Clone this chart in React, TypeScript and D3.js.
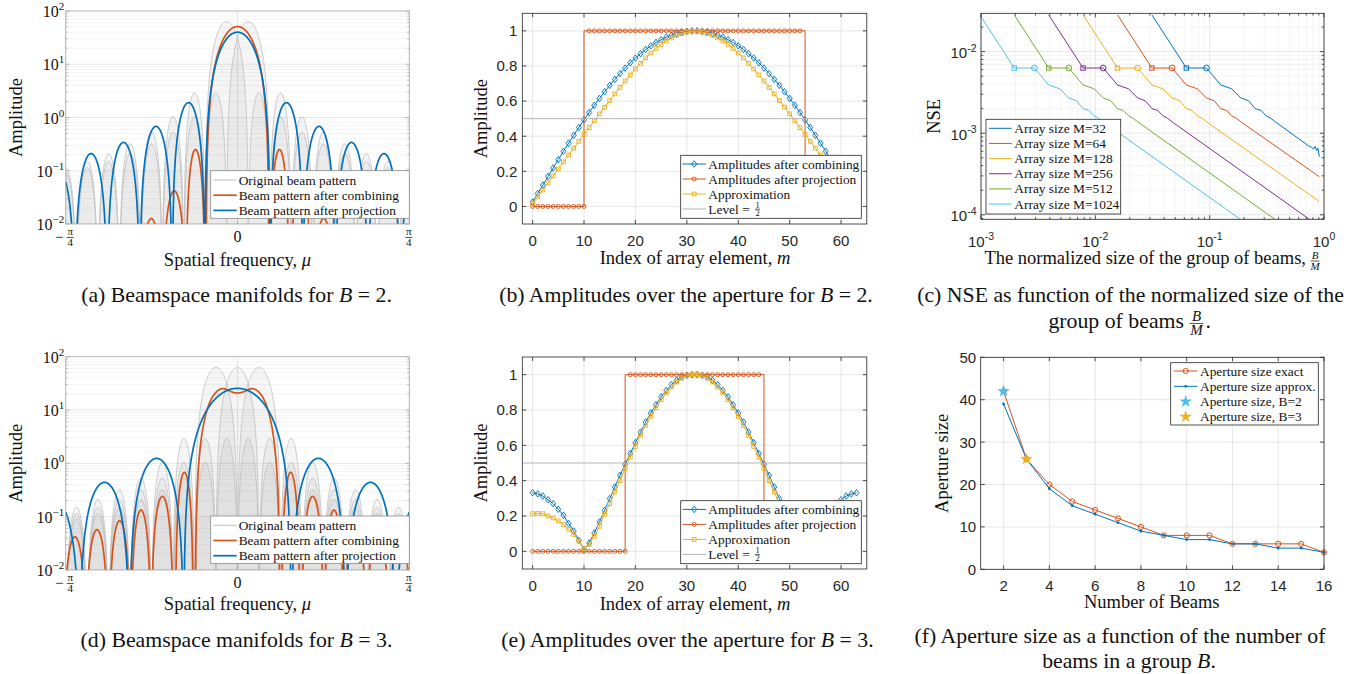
import React from 'react';
import * as d3 from 'd3';

type Lobe = [number, number, number];
type Box = { left: number; right: number; top: number; bottom: number };

const SERIF = '"Liberation Serif","Times New Roman",Times,serif';
const SANS = '"Liberation Sans",Arial,Helvetica,sans-serif';
const INK = '#262626';
const BLUE = '#0072BD';
const ORANGE = '#D95319';
const YELLOW = '#EDB120';
const PURPLE = '#7E2F8E';
const GREEN = '#77AC30';
const CYAN = '#4DBEEE';
const LABEL_FS = 18.5;
const CAPTION_FS = 21.8;
const LEGEND_FS = 13.4;
const TICK_FS = 15;

// ================= DATA =================
// (a),(d) beam patterns. x in units of pi/4, lobes = [left null, right null, peak]
const muTickUnits = [-1, 0, 1];
const amplitudeDecades = [-2, -1, 0, 1, 2];
const originalBeamBin = 0.125;
const originalCentersB2 = [-0.0625, 0.0625];
const originalCentersB3 = [-0.125, 0, 0.125];
const originalLobePeaks = [63, 2.9, 1.04, 0.53, 0.32, 0.21, 0.15, 0.115, 0.09, 0.072, 0.059, 0.049];
const combiningLobesB2: Lobe[] = [
  [-0.183, 0.183, 51], [-0.2998, -0.189, 0.25], [-0.4366, -0.2998, 0.042], [-0.57, -0.4336, 0.0127],
];
const projectionLobesB2: Lobe[] = [
  [-0.19, 0.19, 40], [-0.38, -0.19, 1.9], [-0.569, -0.38, 0.68], [-0.758, -0.569, 0.34],
  [-0.947, -0.758, 0.21], [-1.136, -0.947, 0.105],
];
const combiningLobesB3: Lobe[] = [
  [-0.2456, 0.0629, 24.3], [-0.0629, 0.2456, 24.3], [-0.131, 0.131, 3.5],
  [-0.362, -0.2567, 0.68], [-0.5023, -0.3725, 0.24], [-0.6205, -0.5029, 0.133],
  [-0.7485, -0.6234, 0.084], [-0.8847, -0.7509, 0.057], [-1.0146, -0.8789, 0.042],
];
const projectionLobesB3: Lobe[] = [
  [-0.313, 0.313, 25.5], [-0.6286, -0.313, 1.24], [-0.9197, -0.6286, 0.44], [-1.237, -0.9197, 0.24],
];
const beamLegendLabels = ['Original beam pattern', 'Beam pattern after combining', 'Beam pattern after projection'];

// (b),(e) amplitudes over the aperture, m = 0..63
const elementTicks = [0, 10, 20, 30, 40, 50, 60];
const amplitudeTicks = [0, 0.2, 0.4, 0.6, 0.8, 1];
const combiningAmpB2 = [
  0.025, 0.074, 0.122, 0.171, 0.219, 0.267, 0.314, 0.36, 0.405, 0.45, 0.493, 0.535, 0.576, 0.615, 0.653, 0.69,
  0.724, 0.757, 0.788, 0.818, 0.845, 0.87, 0.894, 0.915, 0.934, 0.95, 0.964, 0.976, 0.985, 0.993, 0.997, 1.0,
  1.0, 0.997, 0.993, 0.985, 0.976, 0.964, 0.95, 0.934, 0.915, 0.894, 0.87, 0.845, 0.818, 0.788, 0.757, 0.724,
  0.69, 0.653, 0.615, 0.576, 0.535, 0.493, 0.45, 0.405, 0.36, 0.314, 0.267, 0.219, 0.171, 0.122, 0.074, 0.025,
];
const projectionAmpB2 = [
  0, 0, 0, 0, 0, 0, 0, 0, 0, 0, 0,
  1, 1, 1, 1, 1, 1, 1, 1, 1, 1, 1, 1, 1, 1, 1, 1, 1, 1, 1, 1, 1, 1, 1, 1, 1, 1, 1, 1, 1, 1, 1, 1, 1, 1, 1, 1, 1, 1, 1, 1, 1, 1,
  0, 0, 0, 0, 0, 0, 0, 0, 0, 0, 0,
];
const approxAmpB2 = [
  0.015, 0.055, 0.094, 0.134, 0.174, 0.214, 0.253, 0.293, 0.332, 0.371, 0.41, 0.449, 0.488, 0.527, 0.565, 0.603,
  0.641, 0.678, 0.714, 0.749, 0.783, 0.815, 0.846, 0.874, 0.9, 0.923, 0.943, 0.96, 0.974, 0.985, 0.993, 0.998,
  0.998, 0.993, 0.985, 0.974, 0.96, 0.943, 0.923, 0.9, 0.874, 0.846, 0.815, 0.783, 0.749, 0.714, 0.678, 0.641,
  0.603, 0.565, 0.527, 0.488, 0.449, 0.41, 0.371, 0.332, 0.293, 0.253, 0.214, 0.174, 0.134, 0.094, 0.055, 0.015,
];
const combiningAmpB3 = [
  0.332, 0.325, 0.313, 0.292, 0.27, 0.238, 0.204, 0.158, 0.115, 0.062, 0.011, 0.047, 0.104, 0.166, 0.232, 0.298,
  0.364, 0.43, 0.492, 0.553, 0.615, 0.675, 0.732, 0.783, 0.83, 0.874, 0.911, 0.943, 0.968, 0.987, 0.996, 1.0,
  1.0, 0.996, 0.987, 0.968, 0.943, 0.911, 0.874, 0.83, 0.783, 0.732, 0.675, 0.615, 0.553, 0.492, 0.43, 0.364,
  0.298, 0.232, 0.166, 0.104, 0.047, 0.011, 0.062, 0.115, 0.158, 0.204, 0.238, 0.27, 0.292, 0.313, 0.325, 0.332,
];
const projectionAmpB3 = [
  0, 0, 0, 0, 0, 0, 0, 0, 0, 0, 0, 0, 0, 0, 0, 0, 0, 0, 0,
  1, 1, 1, 1, 1, 1, 1, 1, 1, 1, 1, 1, 1, 1, 1, 1, 1, 1, 1, 1, 1, 1, 1, 1, 1, 1,
  0, 0, 0, 0, 0, 0, 0, 0, 0, 0, 0, 0, 0, 0, 0, 0, 0, 0, 0,
];
const approxAmpB3 = [
  0.213, 0.215, 0.213, 0.2, 0.189, 0.172, 0.151, 0.125, 0.096, 0.058, 0.013, 0.04, 0.085, 0.142, 0.21, 0.27,
  0.336, 0.4, 0.468, 0.534, 0.594, 0.657, 0.713, 0.764, 0.813, 0.858, 0.896, 0.93, 0.958, 0.981, 0.994, 1.0,
  1.0, 0.994, 0.981, 0.958, 0.93, 0.896, 0.858, 0.813, 0.764, 0.713, 0.657, 0.594, 0.534, 0.468, 0.4, 0.336,
  0.27, 0.21, 0.142, 0.085, 0.04, 0.013, 0.058, 0.096, 0.125, 0.151, 0.172, 0.189, 0.2, 0.213, 0.215, 0.213,
];
const halfLevel = 0.5;
const apertureLegendLabels = ['Amplitudes after combining', 'Amplitudes after projection', 'Approximation', 'Level = '];

// (c) NSE vs B/M
const arraySizes = [32, 64, 128, 256, 512, 1024];
const nseGroupSizes = [1, 2, 3, 4, 5, 6, 7, 8, 9, 10, 11, 12];
const nseHead = [0.0282, 0.0063, 0.0063, 0.0039, 0.0035, 0.0027, 0.0025, 0.002, 0.0019, 0.00163, 0.00152, 0.00138];
const nseTailRatio = [
  [0.684, 0.731, 0.782, 0.809, 0.836, 0.864, 0.883, 0.912],
  [0.912], [0.912], [0.912], [0.912], [0.912],
];
const nseTailValue = [
  [7.5e-4, 6.98e-4, 6.73e-4, 6.37e-4, 6.86e-4, 6.12e-4, 6.55e-4, 5.16e-4],
  [2.92e-4], [1.45e-4], [7.2e-5], [3.6e-5], [1.8e-5],
];
const nseXTickExp = [-3, -2, -1, 0];
const nseYTickExp = [-4, -3, -2];

// (f) aperture size vs number of beams
const beamsPerGroup = [2, 3, 4, 5, 6, 7, 8, 9, 10, 11, 12, 13, 14, 15, 16];
const apertureExact = [42, 26, 20, 16, 14, 12, 10, 8, 8, 8, 6, 6, 6, 6, 4];
const apertureApprox = [39, 26, 19, 15, 13, 11, 9, 8, 7, 7, 6, 6, 5, 5, 4];
const apertureStarB2 = [2, 42];
const apertureStarB3 = [3, 26];
const beamCountTicks = [2, 4, 6, 8, 10, 12, 14, 16];
const apertureTicks = [0, 10, 20, 30, 40, 50];
const sizeLegendLabels = ['Aperture size exact', 'Aperture size approx.', 'Aperture size, B=2', 'Aperture size, B=3'];

// ================= HELPERS =================
function lobeValue(lobes: Lobe[], u: number) {
  let v = 0;
  for (const [l, r, p] of lobes) {
    if (u > l && u < r) {
      const s = Math.sin((Math.PI * (u - l)) / (r - l));
      v += p * s * s;
    }
  }
  return v;
}
function mirrorLobes(lobes: Lobe[]): Lobe[] {
  const out = lobes.slice();
  for (const [l, r, p] of lobes) if (r <= 0) out.push([-r, -l, p]);
  return out;
}
function originalBeamLobes(c: number): Lobe[] {
  const out: Lobe[] = [[c - originalBeamBin, c + originalBeamBin, originalLobePeaks[0]]];
  originalLobePeaks.slice(1).forEach((p, i) => {
    const k = i + 1;
    out.push([c - (k + 1) * originalBeamBin, c - k * originalBeamBin, p]);
    out.push([c + k * originalBeamBin, c + (k + 1) * originalBeamBin, p]);
  });
  return out;
}

function Frac({ x, y, num, den, size, italic, width }: any) {
  const w = width ?? size * 0.75;
  return (
    <g fontFamily={SERIF} fontSize={size} fontStyle={italic ? 'italic' : 'normal'} fill="#111">
      <text x={x} y={y - size * 0.2} textAnchor="middle">{num}</text>
      <line x1={x - w / 2} x2={x + w / 2} y1={y} y2={y} stroke="#111" strokeWidth={0.7} />
      <text x={x} y={y + size * 0.78} textAnchor="middle">{den}</text>
    </g>
  );
}

function MatFrame({ box, xTicks, yTicks, xMinor = [], yMinor = [] }: any) {
  const { left, right, top, bottom } = box;
  const L = 4, l = 2.2;
  const els: any[] = [];
  xTicks.forEach((x: number, i: number) => {
    els.push(<line key={'xb' + i} x1={x} x2={x} y1={bottom} y2={bottom - L} />);
    els.push(<line key={'xt' + i} x1={x} x2={x} y1={top} y2={top + L} />);
  });
  xMinor.forEach((x: number, i: number) => {
    els.push(<line key={'xmb' + i} x1={x} x2={x} y1={bottom} y2={bottom - l} />);
    els.push(<line key={'xmt' + i} x1={x} x2={x} y1={top} y2={top + l} />);
  });
  yTicks.forEach((y: number, i: number) => {
    els.push(<line key={'yl' + i} x1={left} x2={left + L} y1={y} y2={y} />);
    els.push(<line key={'yr' + i} x1={right} x2={right - L} y1={y} y2={y} />);
  });
  yMinor.forEach((y: number, i: number) => {
    els.push(<line key={'yml' + i} x1={left} x2={left + l} y1={y} y2={y} />);
    els.push(<line key={'ymr' + i} x1={right} x2={right - l} y1={y} y2={y} />);
  });
  return (
    <g stroke={INK} strokeWidth={0.8} fill="none">
      {els}
      <rect x={left} y={top} width={right - left} height={bottom - top} />
    </g>
  );
}

function Grid({ box, xs = [], ys = [], xMinor = [], yMinor = [] }: any) {
  const { left, right, top, bottom } = box;
  return (
    <g>
      {xMinor.map((x: number, i: number) => <line key={'a' + i} x1={x} x2={x} y1={top} y2={bottom} stroke="#efefef" strokeWidth={0.7} />)}
      {yMinor.map((y: number, i: number) => <line key={'b' + i} x1={left} x2={right} y1={y} y2={y} stroke="#efefef" strokeWidth={0.7} />)}
      {xs.map((x: number, i: number) => <line key={'c' + i} x1={x} x2={x} y1={top} y2={bottom} stroke="#dfdfdf" strokeWidth={0.8} />)}
      {ys.map((y: number, i: number) => <line key={'d' + i} x1={left} x2={right} y1={y} y2={y} stroke="#dfdfdf" strokeWidth={0.8} />)}
    </g>
  );
}

// ================= PANELS =================
function BeamPanel({ id, box, centers, combining, projection, legendTop }: any) {
  const { left, right, top, bottom } = box as Box;
  const xs = d3.scaleLinear().domain([-1, 1]).range([left, right]);
  const ys = d3.scaleLog().domain([1e-2, 1e2]).range([bottom, top]);
  const us = d3.range(-1, 1.0001, 0.002);
  const pts = (lobes: Lobe[]) => us.map((u) => [u, Math.max(lobeValue(lobes, u), 1e-5)] as [number, number]);
  const line = d3.line<[number, number]>().x((d) => xs(d[0])).y((d) => ys(d[1]));
  const area = d3.area<[number, number]>().x((d) => xs(d[0])).y0(bottom).y1((d) => ys(d[1]));
  const originals = centers.map((c: number) => pts(originalBeamLobes(c)));
  const comb = pts(mirrorLobes(combining));
  const proj = pts(mirrorLobes(projection));
  const minor: number[] = [];
  amplitudeDecades.slice(0, -1).forEach((e) => {
    for (let k = 2; k <= 9; k++) minor.push(k * 10 ** e);
  });
  const clip = 'clip-' + id;
  const axisCol = '#a9a9a9';
  const lx0 = 210.7;
  const lx1 = 409.3;
  const rows = [9.3, 24.5, 39.7].map((d) => legendTop + d);
  const legendColors = ['#b8b8b8', ORANGE, BLUE];
  const legendWidths = [0.9, 1.7, 1.7];
  const barY = bottom + 13.5;
  return (
    <g>
      <defs>
        <clipPath id={clip}>
          <rect x={left} y={top} width={right - left} height={bottom - top} />
        </clipPath>
      </defs>
      <g clipPath={`url(#${clip})`}>
        {minor.map((v) => <line key={'m' + v} x1={left} x2={right} y1={ys(v)} y2={ys(v)} stroke="#efefef" strokeWidth={0.7} />)}
        {amplitudeDecades.map((e) => <line key={'M' + e} x1={left} x2={right} y1={ys(10 ** e)} y2={ys(10 ** e)} stroke="#dcdcdc" strokeWidth={0.7} />)}
        {muTickUnits.map((u) => <line key={'v' + u} x1={xs(u)} x2={xs(u)} y1={top} y2={bottom} stroke="#dcdcdc" strokeWidth={0.7} />)}
        {originals.map((p: any, i: number) => <path key={'f' + i} d={area(p)!} fill="rgba(0,0,0,0.04)" />)}
        {originals.map((p: any, i: number) => <path key={'o' + i} d={line(p)!} fill="none" stroke="#bcbcbc" strokeWidth={0.75} />)}
        <path d={line(comb)!} fill="none" stroke={ORANGE} strokeWidth={1.7} />
        <path d={line(proj)!} fill="none" stroke={BLUE} strokeWidth={1.7} />
      </g>
      <g stroke={axisCol} strokeWidth={0.8} fill="none">
        <rect x={left} y={top} width={right - left} height={bottom - top} />
        {amplitudeDecades.map((e) => (
          <g key={'t' + e}>
            <line x1={left} x2={left + 4} y1={ys(10 ** e)} y2={ys(10 ** e)} />
            <line x1={right} x2={right - 4} y1={ys(10 ** e)} y2={ys(10 ** e)} />
          </g>
        ))}
        {minor.map((v) => (
          <g key={'tm' + v}>
            <line x1={left} x2={left + 2} y1={ys(v)} y2={ys(v)} />
            <line x1={right} x2={right - 2} y1={ys(v)} y2={ys(v)} />
          </g>
        ))}
        {muTickUnits.map((u) => <line key={'tx' + u} x1={xs(u)} x2={xs(u)} y1={bottom} y2={bottom - 4} />)}
      </g>
      {amplitudeDecades.map((e) => (
        <text key={'yl' + e} x={left - 1.5} y={ys(10 ** e) + 6} textAnchor="end" fontFamily={SERIF} fontSize={16} fill="#111">
          10<tspan dy={-7} fontSize={11}>{e < 0 ? '\u2212' + -e : String(e)}</tspan>
        </text>
      ))}
      <text x={xs(-1) - 6.5} y={barY + 4.5} textAnchor="middle" fontFamily={SERIF} fontSize={15} fill="#111">{'\u2212'}</text>
      <Frac x={xs(-1) + 4.5} y={barY} num={'\u03c0'} den="4" size={11} width={7} />
      <text x={xs(0)} y={bottom + 17.5} textAnchor="middle" fontFamily={SERIF} fontSize={16} fill="#111">0</text>
      <Frac x={xs(1) - 0.5} y={barY} num={'\u03c0'} den="4" size={11} width={7} />
      <g>
        <rect x={lx0} y={legendTop} width={lx1 - lx0} height={47.6} fill="#fff" stroke="#8a8a8a" strokeWidth={0.8} />
        {beamLegendLabels.map((t, i) => (
          <g key={t}>
            <line x1={213.3} x2={236.7} y1={rows[i]} y2={rows[i]} stroke={legendColors[i]} strokeWidth={legendWidths[i]} />
            <text x={238.7} y={rows[i] + 4.5} fontFamily={SERIF} fontSize={LEGEND_FS} fill="#111">{t}</text>
          </g>
        ))}
      </g>
    </g>
  );
}

function AmpPanel({ id, box, combining, projection, approximation, legendTop }: any) {
  const { left, right, top, bottom } = box as Box;
  const xs = d3.scaleLinear().domain([-2, 65]).range([left, right]);
  const ys = d3.scaleLinear().domain([-0.1, 1.1]).range([bottom, top]);
  const line = d3.line<[number, number]>().x((d) => xs(d[0])).y((d) => ys(d[1]));
  const combPts = combining.map((v: number, i: number) => [i, v] as [number, number]);
  const apprPts = approximation.map((v: number, i: number) => [i, v] as [number, number]);
  const projPts = projection.map((v: number, i: number) => [i, v] as [number, number]);
  const stepPts: [number, number][] = [];
  projection.forEach((v: number, i: number) => {
    stepPts.push([i, v]);
    const n = projection[i + 1];
    if (n !== undefined && n !== v) stepPts.push(v < n ? [i, n] : [i + 1, v]);
  });
  const diamond = 'M0,-3.3L2.5,0L0,3.3L-2.5,0Z';
  const rows = [8.7, 23.7, 38.7, 53.7].map((d) => legendTop + d);
  const lmx = 694.2;
  return (
    <g>
      <Grid box={box} xs={elementTicks.map((t) => xs(t))} ys={amplitudeTicks.map((t) => ys(t))} />
      <path d={line(combPts)!} fill="none" stroke={BLUE} strokeWidth={1} />
      {combPts.map((d: any, i: number) => <path key={'cd' + i} d={diamond} transform={`translate(${xs(d[0])},${ys(d[1])})`} fill="none" stroke={BLUE} strokeWidth={0.9} />)}
      <path d={line(stepPts)!} fill="none" stroke={ORANGE} strokeWidth={1} />
      {projPts.map((d: any, i: number) => <circle key={'pc' + i} cx={xs(d[0])} cy={ys(d[1])} r={2} fill="none" stroke={ORANGE} strokeWidth={0.9} />)}
      <path d={line(apprPts)!} fill="none" stroke={YELLOW} strokeWidth={1} />
      {apprPts.map((d: any, i: number) => <rect key={'as' + i} x={xs(d[0]) - 1.9} y={ys(d[1]) - 1.9} width={3.8} height={3.8} fill="none" stroke={YELLOW} strokeWidth={0.9} />)}
      <line x1={xs(-2)} x2={xs(65)} y1={ys(halfLevel)} y2={ys(halfLevel)} stroke="#b5b5b5" strokeWidth={1} />
      <MatFrame box={box} xTicks={elementTicks.map((t) => xs(t))} yTicks={amplitudeTicks.map((t) => ys(t))} />
      {elementTicks.map((t) => (
        <text key={'xt' + t} x={xs(t)} y={bottom + 21.5} textAnchor="middle" fontFamily={SANS} fontSize={TICK_FS} fill={INK}>{t}</text>
      ))}
      {amplitudeTicks.map((t) => (
        <text key={'yt' + t} x={left - 5} y={ys(t) + 5.4} textAnchor="end" fontFamily={SANS} fontSize={TICK_FS} fill={INK}>
          {t === 0 ? '0' : t === 1 ? '1' : t.toFixed(1)}
        </text>
      ))}
      <g>
        <rect x={680.7} y={legendTop} width={180.6} height={63} fill="#fff" stroke={INK} strokeWidth={0.8} />
        <line x1={682.5} x2={706} y1={rows[0]} y2={rows[0]} stroke={BLUE} strokeWidth={1} />
        <path d={diamond} transform={`translate(${lmx},${rows[0]})`} fill="none" stroke={BLUE} strokeWidth={0.9} />
        <line x1={682.5} x2={706} y1={rows[1]} y2={rows[1]} stroke={ORANGE} strokeWidth={1} />
        <circle cx={lmx} cy={rows[1]} r={2} fill="none" stroke={ORANGE} strokeWidth={0.9} />
        <line x1={682.5} x2={706} y1={rows[2]} y2={rows[2]} stroke={YELLOW} strokeWidth={1} />
        <rect x={lmx - 1.9} y={rows[2] - 1.9} width={3.8} height={3.8} fill="none" stroke={YELLOW} strokeWidth={0.9} />
        <line x1={682.5} x2={706} y1={rows[3]} y2={rows[3]} stroke="#b5b5b5" strokeWidth={1} />
        {apertureLegendLabels.map((t, i) => (
          <text key={t} x={708.3} y={rows[i] + 4.5} fontFamily={SERIF} fontSize={LEGEND_FS} fill="#111">{t}</text>
        ))}
        <Frac x={757.5} y={rows[3] + 0.2} num="1" den="2" size={8.5} width={5} />
      </g>
    </g>
  );
}

function NsePanel() {
  const box: Box = { left: 981, right: 1324, top: 13.3, bottom: 219.3 };
  const xs = d3.scaleLog().domain([1e-3, 1]).range([box.left, box.right]);
  const ys = d3.scaleLog().domain([8.8e-5, 0.0295]).range([box.bottom, box.top]);
  const xMinor: number[] = [];
  [-3, -2, -1].forEach((e) => { for (let k = 2; k <= 9; k++) xMinor.push(k * 10 ** e); });
  const yMinor: number[] = [9e-5];
  [-4, -3].forEach((e) => { for (let k = 2; k <= 9; k++) yMinor.push(k * 10 ** e); });
  yMinor.push(2e-2);
  const colors = [BLUE, ORANGE, YELLOW, PURPLE, GREEN, CYAN];
  const line = d3.line<[number, number]>().x((d) => xs(d[0])).y((d) => ys(d[1]));
  const series = arraySizes.map((M, j) => {
    const head = nseGroupSizes.map((b, i) => [b / M, nseHead[i]] as [number, number]);
    const tail = nseTailRatio[j].map((x, i) => [x, nseTailValue[j][i]] as [number, number]);
    return head.concat(tail);
  });
  const rows = d3.range(6).map((i) => 128.3 + 15.15 * i);
  return (
    <g>
      <defs>
        <clipPath id="clip-c">
          <rect x={box.left} y={box.top} width={box.right - box.left} height={box.bottom - box.top} />
        </clipPath>
      </defs>
      <Grid box={box} xs={nseXTickExp.map((e) => xs(10 ** e))} ys={nseYTickExp.map((e) => ys(10 ** e))}
        xMinor={xMinor.map((v) => xs(v))} yMinor={yMinor.map((v) => ys(v))} />
      <g clipPath="url(#clip-c)">
        {series.map((s, j) => (
          <g key={'s' + j}>
            <path d={line(s)!} fill="none" stroke={colors[j]} strokeWidth={1} />
            <rect x={xs(s[1][0]) - 2.2} y={ys(s[1][1]) - 2.2} width={4.4} height={4.4} fill="none" stroke={colors[j]} strokeWidth={1} />
            <circle cx={xs(s[2][0])} cy={ys(s[2][1])} r={2.9} fill="none" stroke={colors[j]} strokeWidth={1} />
          </g>
        ))}
      </g>
      <MatFrame box={box} xTicks={nseXTickExp.map((e) => xs(10 ** e))} yTicks={nseYTickExp.map((e) => ys(10 ** e))}
        xMinor={xMinor.map((v) => xs(v))} yMinor={yMinor.map((v) => ys(v))} />
      {nseXTickExp.map((e) => (
        <text key={'xl' + e} x={xs(10 ** e)} y={box.bottom + 27.4} textAnchor="middle" fontFamily={SANS} fontSize={TICK_FS} fill={INK}>
          10<tspan dy={-6.5} fontSize={10.5}>{e < 0 ? '-' + -e : '0'}</tspan>
        </text>
      ))}
      {nseYTickExp.map((e) => (
        <text key={'yl' + e} x={box.left - 4.5} y={ys(10 ** e) + 6.5} textAnchor="end" fontFamily={SANS} fontSize={TICK_FS} fill={INK}>
          10<tspan dy={-6.5} fontSize={10.5}>{'-' + -e}</tspan>
        </text>
      ))}
      <g>
        <rect x={986} y={119.3} width={134.7} height={94.7} fill="#fff" stroke={INK} strokeWidth={0.8} />
        {arraySizes.map((M, i) => (
          <g key={'lg' + M}>
            <line x1={989} x2={1011.7} y1={rows[i]} y2={rows[i]} stroke={colors[i]} strokeWidth={1} />
            <text x={1014.3} y={rows[i] + 4.5} fontFamily={SERIF} fontSize={LEGEND_FS} fill="#111">{`Array size M=${M}`}</text>
          </g>
        ))}
      </g>
    </g>
  );
}

function SizePanel() {
  const box: Box = { left: 980.7, right: 1324, top: 357.3, bottom: 569.3 };
  const xs = d3.scaleLinear().domain([1, 16]).range([box.left, box.right]);
  const ys = d3.scaleLinear().domain([0, 50]).range([box.bottom, box.top]);
  const line = d3.line<[number, number]>().x((d) => xs(d[0])).y((d) => ys(d[1]));
  const exact = beamsPerGroup.map((b, i) => [b, apertureExact[i]] as [number, number]);
  const approx = beamsPerGroup.map((b, i) => [b, apertureApprox[i]] as [number, number]);
  const star = d3.symbol().type(d3.symbolStar).size(40)()!;
  const rows = [371, 386.3, 401.6, 416.8];
  const lmx = 1185.7;
  return (
    <g>
      <Grid box={box} xs={beamCountTicks.map((t) => xs(t))} ys={apertureTicks.map((t) => ys(t))} />
      <path d={line(exact)!} fill="none" stroke={ORANGE} strokeWidth={1} />
      {exact.map((d, i) => <circle key={'e' + i} cx={xs(d[0])} cy={ys(d[1])} r={2.6} fill="none" stroke={ORANGE} strokeWidth={1} />)}
      <path d={line(approx)!} fill="none" stroke={BLUE} strokeWidth={1} />
      {approx.map((d, i) => <circle key={'a' + i} cx={xs(d[0])} cy={ys(d[1])} r={1.4} fill={BLUE} />)}
      <path d={star} transform={`translate(${xs(apertureStarB2[0])},${ys(apertureStarB2[1])})`} fill={CYAN} stroke={CYAN} strokeWidth={0.5} />
      <path d={star} transform={`translate(${xs(apertureStarB3[0])},${ys(apertureStarB3[1])})`} fill={YELLOW} stroke={YELLOW} strokeWidth={0.5} />
      <MatFrame box={box} xTicks={beamCountTicks.map((t) => xs(t))} yTicks={apertureTicks.map((t) => ys(t))} />
      {beamCountTicks.map((t) => (
        <text key={'xt' + t} x={xs(t)} y={box.bottom + 21.5} textAnchor="middle" fontFamily={SANS} fontSize={TICK_FS} fill={INK}>{t}</text>
      ))}
      {apertureTicks.map((t) => (
        <text key={'yt' + t} x={box.left - 4.5} y={ys(t) + 5.4} textAnchor="end" fontFamily={SANS} fontSize={TICK_FS} fill={INK}>{t}</text>
      ))}
      <g>
        <rect x={1170.7} y={362.7} width={147.6} height={62.3} fill="#fff" stroke={INK} strokeWidth={0.8} />
        <line x1={1174} x2={1197.3} y1={rows[0]} y2={rows[0]} stroke={ORANGE} strokeWidth={1} />
        <circle cx={lmx} cy={rows[0]} r={2.6} fill="none" stroke={ORANGE} strokeWidth={1} />
        <line x1={1174} x2={1197.3} y1={rows[1]} y2={rows[1]} stroke={BLUE} strokeWidth={1} />
        <circle cx={lmx} cy={rows[1]} r={1.4} fill={BLUE} />
        <path d={star} transform={`translate(${lmx},${rows[2]})`} fill={CYAN} stroke={CYAN} strokeWidth={0.5} />
        <path d={star} transform={`translate(${lmx},${rows[3]})`} fill={YELLOW} stroke={YELLOW} strokeWidth={0.5} />
        {sizeLegendLabels.map((t, i) => (
          <text key={t} x={1200} y={rows[i] + 4.5} fontFamily={SERIF} fontSize={LEGEND_FS} fill="#111">{t}</text>
        ))}
      </g>
    </g>
  );
}

function YLabel({ x, y, text }: any) {
  return (
    <text x={x} y={y} transform={`rotate(-90 ${x} ${y})`} textAnchor="middle" fontFamily={SERIF} fontSize={LABEL_FS} fill="#111">{text}</text>
  );
}

function Caption({ x, y, children }: any) {
  return (
    <text x={x} y={y} textAnchor="middle" fontFamily={SERIF} fontSize={CAPTION_FS} fill="#111">{children}</text>
  );
}

export default function App() {
  React.useEffect(() => {
    document.body.style.margin = '0';
  }, []);
  const boxA: Box = { left: 65.7, right: 409.3, top: 11, bottom: 224 };
  const boxD: Box = { left: 65.7, right: 409.3, top: 356.7, bottom: 570 };
  const boxB: Box = { left: 522.3, right: 866.8, top: 13.3, bottom: 224 };
  const boxE: Box = { left: 522.3, right: 866.8, top: 357, bottom: 569 };
  return (
    <svg width={1372} height={674} viewBox="0 0 1372 674" style={{ display: 'block', position: 'absolute', left: 0, top: 0, background: '#fff' }}>
      <rect x={0} y={0} width={1372} height={674} fill="#fff" />
      <BeamPanel id="a" box={boxA} centers={originalCentersB2} combining={combiningLobesB2} projection={projectionLobesB2} legendTop={170.7} />
      <BeamPanel id="d" box={boxD} centers={originalCentersB3} combining={combiningLobesB3} projection={projectionLobesB3} legendTop={516} />
      <AmpPanel id="b" box={boxB} combining={combiningAmpB2} projection={projectionAmpB2} approximation={approxAmpB2} legendTop={155.3} />
      <AmpPanel id="e" box={boxE} combining={combiningAmpB3} projection={projectionAmpB3} approximation={approxAmpB3} legendTop={500.7} />
      <NsePanel />
      <SizePanel />

      {/* axis labels */}
      <YLabel x={21.8} y={117.5} text="Amplitude" />
      <YLabel x={21.8} y={463.3} text="Amplitude" />
      <YLabel x={487.3} y={118.7} text="Amplitude" />
      <YLabel x={487.3} y={463} text="Amplitude" />
      <YLabel x={939.7} y={116.3} text="NSE" />
      <YLabel x={947.6} y={463.3} text="Aperture size" />

      <text x={237.5} y={265.5} textAnchor="middle" fontFamily={SERIF} fontSize={LABEL_FS} fill="#111">
        Spatial frequency, <tspan fontStyle="italic">{'\u03bc'}</tspan>
      </text>
      <text x={237.5} y={610} textAnchor="middle" fontFamily={SERIF} fontSize={LABEL_FS} fill="#111">
        Spatial frequency, <tspan fontStyle="italic">{'\u03bc'}</tspan>
      </text>
      <text x={695} y={263.5} textAnchor="middle" fontFamily={SERIF} fontSize={LABEL_FS} fill="#111">
        Index of array element, <tspan fontStyle="italic">m</tspan>
      </text>
      <text x={695} y={610} textAnchor="middle" fontFamily={SERIF} fontSize={LABEL_FS} fill="#111">
        Index of array element, <tspan fontStyle="italic">m</tspan>
      </text>
      <text x={1306} y={264} textAnchor="end" fontFamily={SERIF} fontSize={LABEL_FS} fill="#111">
        The normalized size of the group of beams,
      </text>
      <Frac x={1315} y={261} num="B" den="M" size={11} italic width={9} />
      <text x={1151.7} y={608} textAnchor="middle" fontFamily={SERIF} fontSize={LABEL_FS} fill="#111">Number of Beams</text>

      {/* captions */}
      <Caption x={236.5} y={302}>(a) Beamspace manifolds for <tspan fontStyle="italic">B</tspan> = 2.</Caption>
      <Caption x={686} y={302}>(b) Amplitudes over the aperture for <tspan fontStyle="italic">B</tspan> = 2.</Caption>
      <Caption x={1130.5} y={302}>(c) NSE as function of the normalized size of the</Caption>
      <text x={1184} y={328} textAnchor="end" fontFamily={SERIF} fontSize={CAPTION_FS} fill="#111">group of beams</text>
      <Frac x={1196.5} y={323.5} num="B" den="M" size={15} italic width={14} />
      <text x={1205.5} y={328} fontFamily={SERIF} fontSize={CAPTION_FS} fill="#111">.</text>
      <Caption x={236.5} y={647}>(d) Beamspace manifolds for <tspan fontStyle="italic">B</tspan> = 3.</Caption>
      <Caption x={687.5} y={647}>(e) Amplitudes over the aperture for <tspan fontStyle="italic">B</tspan> = 3.</Caption>
      <Caption x={1120} y={643}>(f) Aperture size as a function of the number of</Caption>
      <Caption x={1129} y={668}>beams in a group <tspan fontStyle="italic">B</tspan>.</Caption>
    </svg>
  );
}
